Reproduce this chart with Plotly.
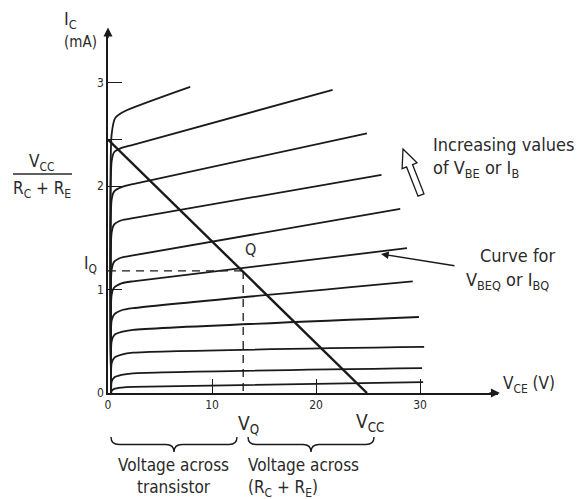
import math
import plotly.graph_objects as go

# ---------------- data ----------------
knee_vce = [0.3, 0.35, 0.6, 1.3, 2.4]
end_vce = [21.6, 24.9, 26.3, 28.1, 28.75, 29.3, 29.9, 30.4, 30.2, 30.3]
curve_ic = [
    [0, 2.24, 2.33, 2.37, 2.40, 2.93],
    [0, 1.87, 1.95, 1.99, 2.02, 2.51],
    [0, 1.55, 1.63, 1.67, 1.69, 2.11],
    [0, 1.19, 1.27, 1.31, 1.33, 1.78],
    [0, 0.95, 1.02, 1.06, 1.08, 1.40],
    [0, 0.70, 0.76, 0.80, 0.82, 1.08],
    [0, 0.50, 0.56, 0.59, 0.61, 0.735],
    [0, 0.29, 0.34, 0.37, 0.39, 0.445],
    [0, 0.11, 0.15, 0.175, 0.19, 0.24],
    [0, 0.02, 0.04, 0.052, 0.06, 0.105],
]
top_vce = [0.3, 0.35, 0.7, 1.5, 7.9]
top_ic = [0, 2.50, 2.66, 2.72, 2.96]

vcc = 24.9          # V
ic_sat = 2.45       # mA  = Vcc/(Rc+Re)
v_q = 13.0
i_q = 1.18

x_ticks = [0, 10, 20, 30]
x_ticktext = ["0", "10", "20", "30"]
y_ticks = [0, 1, 2, ic_sat, 3]
y_ticktext = ["0", "1", "2", "", "3"]

# ---------------- layout geometry ----------------
W, H = 582, 499
L, R, T, B = 108, 84, 31, 106
PW, PH = W - L - R, H - T - B
FONT = "DejaVu Sans Condensed, Liberation Sans Narrow, DejaVu Sans, sans-serif"
INK = "#1a1a1a"
TXT = "#2a2a2a"


def px(x):
    return (x - L) / PW


def py(y):
    return (H - B - y) / PH


fig = go.Figure()

line_style = dict(color=INK, width=1.8, shape="spline", smoothing=0.6)
for ic, ve in zip(curve_ic, end_vce):
    fig.add_trace(go.Scatter(x=knee_vce + [ve], y=ic, mode="lines",
                             line=line_style, hoverinfo="skip", showlegend=False))
fig.add_trace(go.Scatter(x=top_vce, y=top_ic, mode="lines", line=line_style,
                         hoverinfo="skip", showlegend=False))

# load line
fig.add_trace(go.Scatter(x=[0, vcc], y=[ic_sat, 0], mode="lines",
                         line=dict(color=INK, width=2.4), hoverinfo="skip", showlegend=False))
# Q dashed guides
fig.add_trace(go.Scatter(x=[0, v_q], y=[i_q, i_q], mode="lines",
                         line=dict(color=INK, width=1.3, dash="8px,6px"), hoverinfo="skip", showlegend=False))
fig.add_trace(go.Scatter(x=[v_q, v_q], y=[i_q, 0], mode="lines",
                         line=dict(color=INK, width=1.3, dash="8px,6px"), hoverinfo="skip", showlegend=False))

annotations = []


def text(s, x, y, size=18, xanchor="center", yanchor="middle", align="center"):
    annotations.append(dict(text=s, x=px(x), y=py(y), xref="paper", yref="paper",
                            showarrow=False, xanchor=xanchor, yanchor=yanchor, align=align,
                            font=dict(family=FONT, size=size, color=TXT)))


text("I<sub>C</sub>", 70, 20, 18)
text("(mA)", 80, 42, 15)
text("V<sub>CC</sub>", 41, 162, 17)
text("R<sub>C</sub> + R<sub>E</sub>", 42, 189, 17)
text("I<sub>Q</sub>", 90, 264, 17)
text("Q", 250, 249, 16)
text("V<sub>CE</sub> (V)", 501, 384, 17, xanchor="left")
text("V<sub>Q</sub>", 248, 424, 19)
text("V<sub>CC</sub>", 370, 422, 19)
text("Voltage across<br>transistor", 173, 476, 17)
text("Voltage across<br>(R<sub>C</sub> + R<sub>E</sub>)", 246, 477, 17, xanchor="left", align="left")
text("Increasing values<br>of V<sub>BE</sub> or I<sub>B</sub>", 431, 157, 18, xanchor="left", align="left")
text("Curve for", 478, 255, 18, xanchor="left")
text("V<sub>BEQ</sub> or I<sub>BQ</sub>", 464, 281, 18, xanchor="left")

# axis arrowheads
annotations.append(dict(x=0, y=1.01, xref="paper", yref="paper", ax=0, ay=12,
                        showarrow=True, arrowhead=2, arrowsize=1.2, arrowwidth=1.5,
                        arrowcolor=INK, text=""))
annotations.append(dict(x=1.005, y=0, xref="paper", yref="paper", ax=-12, ay=0,
                        showarrow=True, arrowhead=2, arrowsize=1.2, arrowwidth=1.5,
                        arrowcolor=INK, text=""))
# arrow to Q curve
annotations.append(dict(x=px(381), y=py(254), xref="paper", yref="paper",
                        ax=75, ay=12, axref="pixel", ayref="pixel",
                        showarrow=True, arrowhead=2, arrowsize=1.1, arrowwidth=1.4,
                        arrowcolor=INK, text=""))

shapes = []
# fraction bar
shapes.append(dict(type="line", xref="paper", yref="paper", x0=px(13), x1=px(72),
                   y0=py(174), y1=py(174), line=dict(color=TXT, width=1.3)))


def brace(x1, x2, ytop, ybot):
    xm = (x1 + x2) / 2
    ymid = (ytop + ybot) / 2
    r = 8
    pts = [
        f"M {px(x1)},{py(ytop)}",
        f"Q {px(x1)},{py(ymid)} {px(x1 + r)},{py(ymid)}",
        f"L {px(xm - r)},{py(ymid)}",
        f"Q {px(xm)},{py(ymid)} {px(xm)},{py(ybot)}",
        f"Q {px(xm)},{py(ymid)} {px(xm + r)},{py(ymid)}",
        f"L {px(x2 - r)},{py(ymid)}",
        f"Q {px(x2)},{py(ymid)} {px(x2)},{py(ytop)}",
    ]
    return dict(type="path", xref="paper", yref="paper", path=" ".join(pts),
                line=dict(color=INK, width=1.4))


shapes.append(brace(111, 237, 437, 452))
shapes.append(brace(248, 374, 437, 452))

# hollow arrow
tx, ty = 403, 149
sx, sy = 421, 195
dx, dy = tx - sx, ty - sy
ln = math.hypot(dx, dy)
ux, uy = dx / ln, dy / ln
nx, ny = -uy, ux
hl, hw, sw = 18, 8, 3.2
bx, by = tx - hl * ux, ty - hl * uy
poly = [(tx, ty), (bx + hw * nx, by + hw * ny), (bx + sw * nx, by + sw * ny),
        (sx + sw * nx, sy + sw * ny), (sx - sw * nx, sy - sw * ny),
        (bx - sw * nx, by - sw * ny), (bx - hw * nx, by - hw * ny)]
path = "M " + " L ".join(f"{px(a)},{py(b)}" for a, b in poly) + " Z"
shapes.append(dict(type="path", xref="paper", yref="paper", path=path,
                   fillcolor="white", line=dict(color=INK, width=1.3)))

fig.update_layout(
    width=W, height=H,
    margin=dict(l=L, r=R, t=T, b=B, pad=0),
    paper_bgcolor="white", plot_bgcolor="white",
    showlegend=False,
    annotations=annotations,
    shapes=shapes,
    xaxis=dict(range=[0, 37.5], tickvals=x_ticks, ticktext=x_ticktext,
               ticks="inside", ticklen=14, tickwidth=1.3, tickcolor=INK,
               showline=True, linecolor=INK, linewidth=1.6, showgrid=False,
               zeroline=False, tickfont=dict(family=FONT, size=12, color=TXT)),
    yaxis=dict(range=[0, 3.5], tickvals=y_ticks, ticktext=y_ticktext,
               ticks="inside", ticklen=14, tickwidth=1.3, tickcolor=INK,
               showline=True, linecolor=INK, linewidth=1.6, showgrid=False,
               zeroline=False, tickfont=dict(family=FONT, size=12, color=TXT)),
)

fig.write_html("out.html")
